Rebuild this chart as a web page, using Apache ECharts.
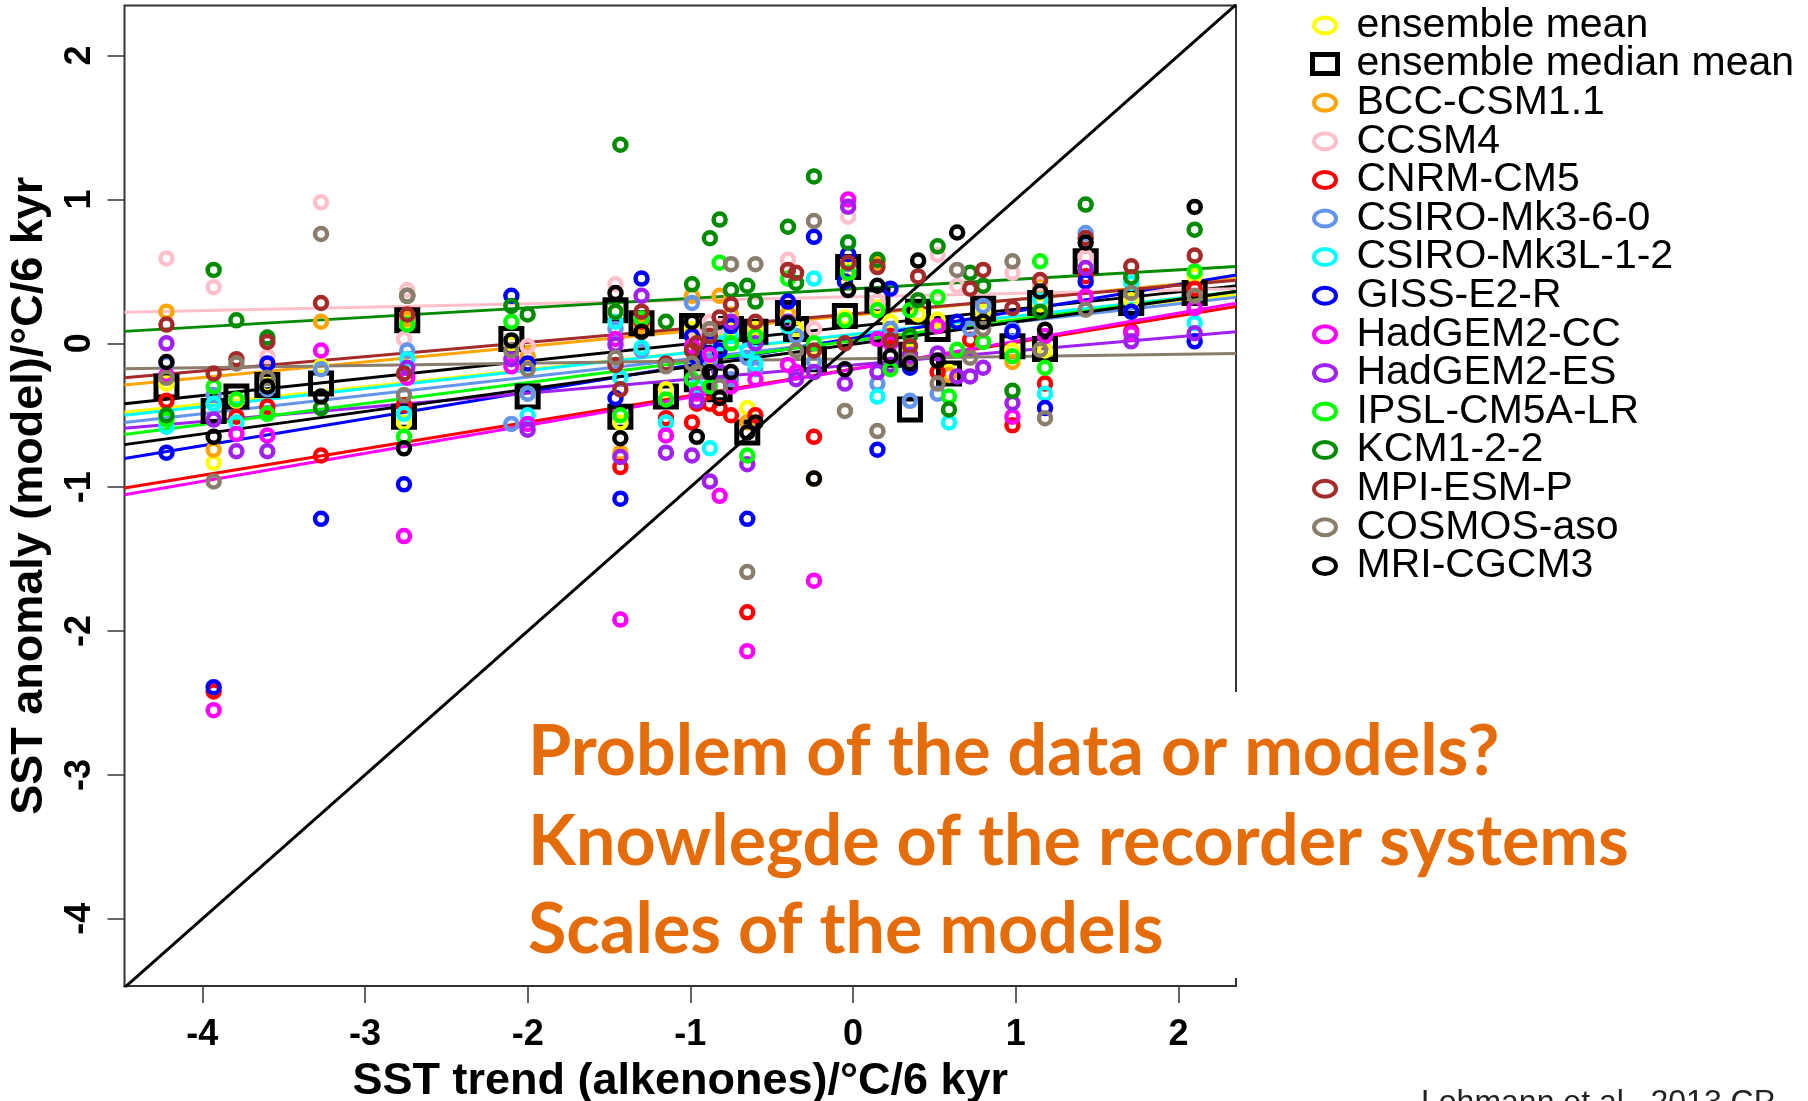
<!DOCTYPE html>
<html>
<head>
<meta charset="utf-8">
<script src="https://cdn.jsdelivr.net/npm/echarts@6/dist/echarts.min.js"></script>
<style>html,body{margin:0;padding:0;background:#fff;}#chart{width:1808px;height:1101px;}</style>
</head>
<body>
<div id="chart"></div>
<script>
// ---- axis extents and tick labels ----
const X_MIN = -4.478, X_MAX = 2.354;
const Y_MIN = -4.467, Y_MAX = 2.348;
const xTicks = [-4, -3, -2, -1, 0, 1, 2];
const yTicks = [-4, -3, -2, -1, 0, 1, 2];

// ---- site x values: SST trend (alkenones) ----
const siteX = [-4.22, -3.93, -3.79, -3.60, -3.27, -2.74, -2.76, -2.10, -2.00, -1.46,
               -1.43, -1.30, -1.15, -0.99, -0.96, -0.88, -0.82, -0.75, -0.65, -0.60,
               -0.40, -0.35, -0.24, -0.03, -0.05, 0.15, 0.23, 0.35, 0.40, 0.52,
                0.59, 0.64, 0.72, 0.80, 0.98, 1.15, 1.18, 1.43, 1.71, 2.10];

// ---- model SST anomalies per site (null = no point) ----
const ensMean = [-0.28, -0.83, -0.40, -0.29, -0.16, 0.15, -0.55, 0.00, -0.35, 0.22,
                 -0.55, 0.12, -0.32, 0.10, -0.20, -0.10, 0.02, 0.10, -0.45, 0.10,
                  0.20, 0.10, -0.12, 0.51, 0.18, 0.25, 0.15, -0.05, 0.20, 0.165,
                 -0.20, null, null, 0.22, -0.05, 0.27, -0.05, 0.52, 0.30, 0.47];
const ensMedian = [-0.30, -0.47, -0.37, -0.29, -0.28, 0.16, -0.51, 0.03, -0.37, 0.23,
                   -0.51, 0.14, -0.37, 0.12, -0.25, -0.10, -0.32, 0.10, -0.62, 0.08,
                    0.21, 0.10, -0.11, 0.53, 0.19, 0.30, -0.08, -0.46, 0.22, 0.10,
                   -0.21, null, null, 0.24, -0.02, 0.28, -0.04, 0.57, 0.28, 0.35];
const bccCsm11 = [0.22, -0.74, null, null, 0.15, 0.17, null, null, -0.09, null,
                  -0.76, 0.12, null, 0.33, null, 0.05, 0.33, 0.20, -0.55, null,
                   0.21, null, -0.94, 0.48, null, 0.56, null, null, null, null,
                  -0.22, null, null, null, -0.13, 0.40, null, null, null, null];
const ccsm4 = [0.59, 0.39, null, -0.09, 0.98, 0.37, 0.03, null, -0.02, 0.41,
               null, null, null, null, 0.05, 0.15, 0.12, 0.15, null, null,
               0.58, null, 0.10, 0.88, null, 0.29, null, null, null, 0.616,
               null, 0.40, null, null, 0.49, 0.42, null, 0.60, null, null];
const cnrmCm5 = [-0.40, -2.42, -0.51, -0.44, -0.78, null, -0.43, null, null, null,
                 -0.86, 0.15, -0.52, -0.55, -0.42, -0.42, -0.45, -0.50, -1.87, -0.50,
                  null, null, -0.65, null, null, null, 0.05, null, null, -0.20,
                  null, null, 0.025, null, -0.57, null, -0.28, 0.466, 0.083, 0.38];
const csiroMk360 = [-0.14, -0.36, null, -0.32, -0.18, -0.05, null, -0.56, -0.35, 0.10,
                    null, -0.05, null, 0.28, -0.10, -0.12, -0.20, -0.25, -0.10, -0.18,
                    0.15, 0.05, -0.13, 0.55, null, -0.28, 0.10, -0.40, null, -0.35,
                    null, null, 0.10, 0.26, 0.095, null, null, 0.767, null, null];
const csiroMk3L = [-0.58, -0.42, -0.55, null, null, -0.11, -0.49, null, -0.50, 0.15,
                   -0.24, -0.03, -0.55, null, -0.30, -0.73, 0.00, 0.05, -0.05, -0.14,
                    0.12, null, 0.45, 0.70, null, -0.37, null, -0.10, null, null,
                   -0.55, null, null, null, null, 0.30, -0.35, null, 0.42, 0.14];
const gissE2R = [-0.76, -2.39, null, -0.14, -1.22, null, -0.98, 0.33, -0.14, -0.38,
                 -1.08, 0.45, null, 0.05, -0.10, 0.00, -0.05, 0.12, -1.22, null,
                  0.29, null, 0.74, 0.62, 0.43, -0.74, 0.38, -0.17, null, null,
                  null, 0.15, null, null, 0.08, null, -0.45, 0.43, 0.22, 0.014];
const hadgem2CC = [-0.22, -2.55, -0.63, -0.64, -0.05, -0.24, -1.34, -0.16, -0.56, 0.03,
                   -1.92, null, -0.64, -0.02, -0.35, -0.08, -1.06, -0.30, -2.14, -0.25,
                   -0.15, -0.20, -1.65, 1.00, null, 0.03, 0.00, -0.10, null, 0.12,
                    null, null, null, null, -0.51, null, 0.05, 0.326, 0.07, 0.245];
const hadgem2ES = [0.00, -0.53, -0.75, -0.75, null, -0.17, null, -0.11, -0.60, -0.01,
                   -0.79, 0.33, -0.76, -0.78, -0.40, -0.96, -0.20, 0.15, -0.84, 0.00,
                    0.15, -0.25, -0.20, 0.95, -0.28, -0.20, -0.15, -0.08, null, -0.07,
                    null, -0.23, -0.23, -0.17, -0.415, null, null, 0.523, 0.014, 0.07];
const ipslCm5aLr = [-0.53, -0.30, -0.39, -0.49, null, 0.13, -0.65, 0.15, null, null,
                    -0.50, 0.17, -0.39, -0.25, null, -0.30, 0.56, 0.00, -0.78, 0.05,
                     0.45, null, 0.00, 0.49, 0.16, 0.23, -0.18, 0.23, null, 0.32,
                    -0.37, -0.045, null, 0.01, -0.09, 0.57, -0.17, null, null, 0.50];
const kcm122 = [-0.50, 0.51, 0.16, 0.04, -0.45, 0.33, null, 0.26, 0.20, 0.22,
                1.38, null, 0.15, 0.41, null, 0.73, 0.86, 0.37, 0.40, 0.29,
                0.81, 0.42, 1.16, 0.70, null, 0.58, null, 0.05, 0.30, 0.674,
               -0.46, null, 0.49, 0.40, -0.33, 0.22, null, 0.964, 0.46, 0.79];
const mpiEsmP = [0.13, -0.21, -0.11, 0.01, 0.28, 0.20, -0.21, null, null, -0.15,
                 -0.32, 0.22, -0.14, -0.05, 0.00, 0.05, 0.18, 0.27, null, 0.15,
                  0.51, 0.49, -0.05, 0.56, 0.00, 0.53, 0.02, -0.02, 0.465, null,
                  null, null, 0.38, 0.51, 0.245, 0.44, null, 0.732, 0.535, 0.61];
const cosmosAso = [-0.24, -0.96, -0.14, -0.24, 0.76, 0.33, -0.36, -0.05, -0.18, -0.10,
                   null, null, -0.16, -0.14, -0.20, 0.10, -0.30, 0.55, -1.59, 0.55,
                   null, -0.05, 0.85, null, -0.47, -0.61, null, -0.12, null, -0.28,
                   null, 0.51, -0.10, 0.10, 0.57, -0.045, -0.52, 0.234, 0.35, 0.33];
const mriCgcm3 = [-0.13, -0.65, null, -0.30, -0.37, null, -0.73, 0.02, null, 0.35,
                  -0.66, 0.08, null, 0.15, -0.65, -0.20, -0.38, -0.20, -0.62, -0.55,
                   0.14, null, -0.94, 0.37, -0.18, 0.40, -0.09, -0.14, 0.575, -0.12,
                   null, 0.77, null, 0.15, null, 0.36, 0.095, 0.70, null, 0.948];

// ---- legend names, colours and the fitted regression lines (y = intercept + slope * x) ----
const seriesNames = ['ensemble mean', 'ensemble median mean', 'BCC-CSM1.1', 'CCSM4', 'CNRM-CM5',
  'CSIRO-Mk3-6-0', 'CSIRO-Mk3L-1-2', 'GISS-E2-R', 'HadGEM2-CC', 'HadGEM2-ES',
  'IPSL-CM5A-LR', 'KCM1-2-2', 'MPI-ESM-P', 'COSMOS-aso', 'MRI-CGCM3'];
const seriesColors = ['#FFFF00', '#000000', '#FFA500', '#FFC0CB', '#FF0000',
  '#6495ED', '#00FFFF', '#0000FF', '#FF00FF', '#A020F0',
  '#00FF00', '#008B00', '#A52A2A', '#8B7D6B', '#000000'];
const seriesValues = [ensMean, ensMedian, bccCsm11, ccsm4, cnrmCm5, csiroMk360, csiroMk3L,
  gissE2R, hadgem2CC, hadgem2ES, ipslCm5aLr, kcm122, mpiEsmP, cosmosAso, mriCgcm3];
const fitIntercept = [0.057, 0.117, 0.195, 0.323, -0.179, 0.020, 0.063, 0.036, -0.180, -0.151,
  0.017, 0.379, 0.205, -0.107, -0.007];
const fitSlope = [0.1199, 0.1199, 0.1082, 0.0241, 0.1846, 0.1272, 0.1257, 0.1867, 0.1949, 0.0980,
  0.1455, 0.0661, 0.0994, 0.0156, 0.1557];

// ---- annotation texts ----
const noteLines = ['Problem of the data or models?', 'Knowlegde of the recorder systems', 'Scales of the models'];
const citation = 'Lohmann et al., 2013 CP';
const xTitle = 'SST trend (alkenones)/°C/6 kyr';
const yTitle = 'SST anomaly (model)/°C/6 kyr';

const FONT = "'Liberation Sans', Arial, sans-serif";
const ELLIPSE = 'path://M0,0M25,19M1.5,9.5A11,8 0 1,1 23.5,9.5A11,8 0 1,1 1.5,9.5Z';

const chart = echarts.init(document.getElementById('chart'), null, {renderer: 'canvas'});

const series = [];
// regression lines
seriesNames.forEach((n, i) => {
  series.push({
    type: 'line', name: n + ' fit', silent: true, symbol: 'none', z: 2, clip: true,
    lineStyle: {color: seriesColors[i], width: 3},
    data: [[X_MIN, fitIntercept[i] + fitSlope[i] * X_MIN], [X_MAX, fitIntercept[i] + fitSlope[i] * X_MAX]]
  });
});
// 1:1 line
series.push({
  type: 'line', name: '1:1', silent: true, symbol: 'none', z: 3, clip: true,
  lineStyle: {color: '#000', width: 3},
  data: [[X_MIN, X_MIN], [X_MAX, X_MAX]]
});
// points: median squares first, then mean, then models
const order = [1, 0, 2, 3, 4, 5, 6, 7, 8, 9, 10, 11, 12, 13, 14];
order.forEach(i => {
  const pts = [];
  siteX.forEach((x, k) => { if (seriesValues[i][k] !== null) pts.push([x, seriesValues[i][k]]); });
  const isSq = i === 1;
  series.push({
    type: 'scatter', name: seriesNames[i], z: 5, silent: true,
    symbol: isSq ? 'rect' : 'circle',
    symbolSize: isSq ? 21 : 12,
    itemStyle: {color: 'rgba(0,0,0,0)', borderColor: seriesColors[i], borderWidth: isSq ? 5 : 4.5, opacity: 1},
    data: pts
  });
});

const option = {
  animation: false,
  backgroundColor: '#fff',
  grid: {left: 124.5, top: 5.5, width: 1111.5, height: 980.5, show: true, borderColor: '#333', borderWidth: 2,
         backgroundColor: 'rgba(0,0,0,0)', containLabel: false, outerBoundsMode: 'none'},
  xAxis: {
    type: 'value', min: X_MIN, max: X_MAX, position: 'bottom',
    splitLine: {show: false},
    axisLine: {show: false, onZero: false},
    axisTick: {show: true, customValues: xTicks, length: 17, lineStyle: {color: '#333', width: 1.5}},
    axisLabel: {customValues: xTicks, fontSize: 36, fontWeight: 'bold', fontFamily: FONT, color: '#000', margin: 31},
    name: xTitle, nameLocation: 'middle', nameGap: 73,
    nameTextStyle: {fontSize: 45, fontWeight: 'bold', fontFamily: FONT, color: '#000'}
  },
  yAxis: {
    type: 'value', min: Y_MIN, max: Y_MAX, position: 'left',
    splitLine: {show: false},
    axisLine: {show: false, onZero: false},
    axisTick: {show: true, customValues: yTicks, length: 17, lineStyle: {color: '#333', width: 1.5}},
    axisLabel: {customValues: yTicks, rotate: 90, fontSize: 36, fontWeight: 'bold', fontFamily: FONT, color: '#000', margin: 26},
    name: yTitle, nameLocation: 'middle', nameGap: 72, nameRotate: 90,
    nameTextStyle: {fontSize: 45, fontWeight: 'bold', fontFamily: FONT, color: '#000'}
  },
  legend: {
    orient: 'vertical', left: 1305, top: 0, itemGap: -2.4, itemWidth: 25, itemHeight: 19,
    selectedMode: false,
    textStyle: {fontSize: 41, fontFamily: FONT, color: '#000', lineHeight: 38.6, padding: [0, 0, 0, 14]},
    data: seriesNames.map((n, i) => ({
      name: n,
      icon: i === 1 ? 'rect' : ELLIPSE,
      itemStyle: {color: 'rgba(0,0,0,0)', borderColor: seriesColors[i], borderWidth: i === 1 ? 5 : 4}
    }))
  },
  graphic: [
    {type: 'rect', left: 1226, top: 692, shape: {width: 24, height: 286}, style: {fill: '#fff'}, z: 100},
    ...noteLines.map((t, k) => ({
      type: 'text', left: 528, top: [717, 807, 895][k], z: 101,
      style: {text: t, fill: '#E46C0A', font: "bold 70px Lato, 'Open Sans', sans-serif"}
    })),
    {type: 'text', left: 1421, top: 1087, z: 101, style: {text: citation, fill: '#222', font: "32px 'Liberation Sans', Arial, sans-serif"}}
  ],
  series: series
};
chart.setOption(option);
</script>
</body>
</html>
